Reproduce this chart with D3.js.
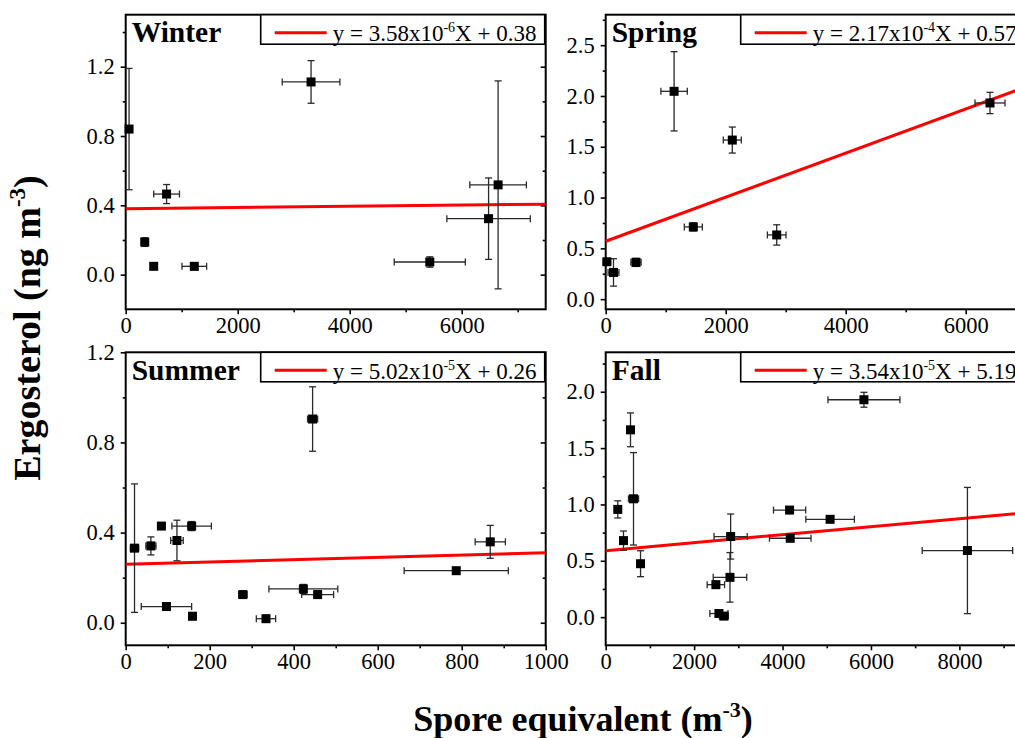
<!DOCTYPE html>
<html>
<head>
<meta charset="utf-8">
<script src="https://cdn.jsdelivr.net/npm/d3@7"></script>
<style>
  body { margin: 0; background: #fff; }
  svg { display: block; }
</style>
</head>
<body>
<svg id="chart" width="1015" height="738"></svg>
<script>
// ---- data ----
const seasons = ["Winter", "Spring", "Summer", "Fall"];

const winterX    = [60, 730, 340, 500, 1225, 3310, 5430, 6480, 6650];
const winterY    = [0.84, 0.465, 0.188, 0.048, 0.048, 1.112, 0.073, 0.323, 0.518];
const winterXErr = [20, 230, 55, 40, 220, 515, 635, 745, 505];
const winterYErr = [0.35, 0.055, 0.025, 0.015, 0.02, 0.123, 0.03, 0.235, 0.6];

const springX    = [20, 130, 505, 1140, 1460, 2110, 2850, 6405];
const springY    = [0.368, 0.263, 0.362, 2.046, 0.711, 1.566, 0.632, 1.931];
const springXErr = [60, 90, 85, 220, 150, 150, 155, 250];
const springYErr = [0.03, 0.135, 0.04, 0.39, 0.04, 0.128, 0.1, 0.105];

const summerX    = [21, 60, 85, 157, 122, 445, 97, 159, 279, 334, 423, 457, 787, 868];
const summerY    = [0.331, 0.341, 0.429, 0.429, 0.365, 0.904, 0.072, 0.029, 0.125, 0.018, 0.15, 0.125, 0.231, 0.359];
const summerXErr = [10, 12, 6, 47, 15, 12, 60, 6, 10, 23, 82, 38, 124, 36];
const summerYErr = [0.285, 0.04, 0.01, 0.02, 0.09, 0.143, 0.01, 0.015, 0.015, 0.015, 0.02, 0.015, 0.01, 0.073];

const fallX    = [273, 402, 561, 629, 788, 2492, 2561, 2674, 2826, 2811, 4159, 4174, 5076, 5841, 8182];
const fallY    = [0.956, 0.679, 1.662, 1.05, 0.474, 0.288, 0.032, 0.009, 0.715, 0.353, 0.95, 0.7, 0.868, 1.929, 0.591];
const fallXErr = [60, 60, 50, 114, 40, 197, 205, 100, 375, 379, 364, 470, 549, 814, 1023];
const fallYErr = [0.076, 0.085, 0.15, 0.41, 0.115, 0.02, 0.02, 0.02, 0.2, 0.22, 0.03, 0.03, 0.02, 0.066, 0.56];

// linear fits (slope, intercept) and the legend text pieces
const fitSlope     = [3.58e-6, 2.17e-4, 5.02e-5, 3.54e-5];
const fitIntercept = [0.38, 0.57, 0.26, 0.59];
const legendCoef   = ["3.58", "2.17", "5.02", "3.54"];
const legendExp    = ["-6", "-4", "-5", "-5"];
const legendConst  = ["0.38", "0.57", "0.26", "5.19"];

// tick values
const winterXTicks = [0, 2000, 4000, 6000];
const winterXMinor = [1000, 3000, 5000, 7000];
const winterYTicks = [0, 0.4, 0.8, 1.2];
const winterYMinor = [0.2, 0.6, 1.0, 1.4];
const springXTicks = [0, 2000, 4000, 6000];
const springXMinor = [1000, 3000, 5000, 7000];
const springYTicks = [0, 0.5, 1.0, 1.5, 2.0, 2.5];
const springYMinor = [0.25, 0.75, 1.25, 1.75, 2.25, 2.75];
const summerXTicks = [0, 200, 400, 600, 800, 1000];
const summerXMinor = [100, 300, 500, 700, 900];
const summerYTicks = [0, 0.4, 0.8, 1.2];
const summerYMinor = [0.2, 0.6, 1.0];
const fallXTicks = [0, 2000, 4000, 6000, 8000];
const fallXMinor = [1000, 3000, 5000, 7000, 9000];
const fallYTicks = [0, 0.5, 1.0, 1.5, 2.0];
const fallYMinor = [0.25, 0.75, 1.25, 1.75, 2.25];

const serif = '"Liberation Serif", "Times New Roman", Times, serif';

const svg = d3.select("#chart")
    .attr("font-family", serif);

svg.append("rect")
    .attr("width", 1015)
    .attr("height", 738)
    .attr("fill", "#fff");

const panels = [
  {left: 125.7, top: 14.7, height: 294.6, xDomain: [0, 7500], yDomain: [-0.2, 1.5],
   xs: winterX, ys: winterY, xe: winterXErr, ye: winterYErr,
   xt: winterXTicks, xm: winterXMinor, yt: winterYTicks, ym: winterYMinor},
  {left: 605.7, top: 14.7, height: 294.6, xDomain: [0, 7000], yDomain: [-0.1, 2.8],
   xs: springX, ys: springY, xe: springXErr, ye: springYErr,
   xt: springXTicks, xm: springXMinor, yt: springYTicks, ym: springYMinor},
  {left: 125.7, top: 352.3, height: 293, xDomain: [0, 1000], yDomain: [-0.1, 1.2],
   xs: summerX, ys: summerY, xe: summerXErr, ye: summerYErr,
   xt: summerXTicks, xm: summerXMinor, yt: summerYTicks, ym: summerYMinor},
  {left: 605.7, top: 352.3, height: 293, xDomain: [0, 9500], yDomain: [-0.25, 2.35],
   xs: fallX, ys: fallY, xe: fallXErr, ye: fallYErr,
   xt: fallXTicks, xm: fallXMinor, yt: fallYTicks, ym: fallYMinor}
];

const width = 420;

panels.forEach((p, i) => {
  const g = svg.append("g")
      .attr("transform", `translate(${p.left}, ${p.top})`);

  const xScale = d3.scaleLinear().domain(p.xDomain).range([0, width]);
  const yScale = d3.scaleLinear().domain(p.yDomain).range([p.height, 0]);

  // axes
  const styleAxis = a => {
    a.select(".domain").remove();
    a.attr("font-size", 22.5).attr("font-family", serif);
    a.selectAll("line").attr("stroke", "#000").attr("stroke-width", 1.6);
    a.selectAll("text").attr("fill", "#000");
  };

  g.append("g")
    .attr("transform", `translate(0, ${p.height})`)
    .call(d3.axisBottom(xScale).tickValues(p.xt).tickFormat(d3.format("d")).tickSize(5).tickPadding(3))
    .call(styleAxis);
  g.append("g")
    .attr("transform", `translate(0, ${p.height})`)
    .call(d3.axisBottom(xScale).tickValues(p.xm).tickFormat("").tickSize(3))
    .call(styleAxis);

  g.append("g")
    .call(d3.axisLeft(yScale).tickValues(p.yt).tickFormat(d3.format(".1f")).tickSize(5).tickPadding(6))
    .call(styleAxis);
  g.append("g")
    .call(d3.axisLeft(yScale).tickValues(p.ym).tickFormat("").tickSize(3))
    .call(styleAxis);

  // mirror ticks on the right side, pointing inward
  g.append("g")
    .attr("transform", `translate(${width}, 0)`)
    .call(d3.axisLeft(yScale).tickValues(p.yt).tickFormat("").tickSize(5))
    .call(styleAxis);
  g.append("g")
    .attr("transform", `translate(${width}, 0)`)
    .call(d3.axisLeft(yScale).tickValues(p.ym).tickFormat("").tickSize(3))
    .call(styleAxis);

  // frame
  g.append("rect")
    .attr("width", width)
    .attr("height", p.height)
    .attr("fill", "none")
    .attr("stroke", "#000")
    .attr("stroke-width", 2);

  // fit line
  g.append("line")
    .attr("x1", xScale(p.xDomain[0]))
    .attr("y1", yScale(fitSlope[i] * p.xDomain[0] + fitIntercept[i]))
    .attr("x2", xScale(p.xDomain[1]))
    .attr("y2", yScale(fitSlope[i] * p.xDomain[1] + fitIntercept[i]))
    .attr("stroke", "#ff0000")
    .attr("stroke-width", 3);

  const pts = p.xs.map((x, k) => ({x: x, y: p.ys[k], xe: p.xe[k], ye: p.ye[k]}));
  const cap = 3.5;
  const errColor = "#2a2a2a";

  const err = g.selectAll(".err")
    .data(pts)
    .enter().append("g")
    .attr("class", "err")
    .attr("stroke", errColor)
    .attr("stroke-width", 1.3);

  // horizontal error bars
  err.append("line")
    .attr("x1", d => xScale(d.x - d.xe)).attr("x2", d => xScale(d.x + d.xe))
    .attr("y1", d => yScale(d.y)).attr("y2", d => yScale(d.y));
  err.append("line")
    .attr("x1", d => xScale(d.x - d.xe)).attr("x2", d => xScale(d.x - d.xe))
    .attr("y1", d => yScale(d.y) - cap).attr("y2", d => yScale(d.y) + cap);
  err.append("line")
    .attr("x1", d => xScale(d.x + d.xe)).attr("x2", d => xScale(d.x + d.xe))
    .attr("y1", d => yScale(d.y) - cap).attr("y2", d => yScale(d.y) + cap);

  // vertical error bars
  err.append("line")
    .attr("x1", d => xScale(d.x)).attr("x2", d => xScale(d.x))
    .attr("y1", d => yScale(d.y - d.ye)).attr("y2", d => yScale(d.y + d.ye));
  err.append("line")
    .attr("x1", d => xScale(d.x) - cap).attr("x2", d => xScale(d.x) + cap)
    .attr("y1", d => yScale(d.y - d.ye)).attr("y2", d => yScale(d.y - d.ye));
  err.append("line")
    .attr("x1", d => xScale(d.x) - cap).attr("x2", d => xScale(d.x) + cap)
    .attr("y1", d => yScale(d.y + d.ye)).attr("y2", d => yScale(d.y + d.ye));

  // square markers
  const s = 9;
  g.selectAll(".pt")
    .data(pts)
    .enter().append("rect")
    .attr("class", "pt")
    .attr("x", d => xScale(d.x) - s / 2)
    .attr("y", d => yScale(d.y) - s / 2)
    .attr("width", s)
    .attr("height", s)
    .attr("fill", "#000");

  // legend box
  g.append("rect")
    .attr("x", 135)
    .attr("y", 0)
    .attr("width", width - 136)
    .attr("height", 29.5)
    .attr("fill", "#fff")
    .attr("stroke", "#000")
    .attr("stroke-width", 1.6);
  g.append("line")
    .attr("x1", 149).attr("x2", 201)
    .attr("y1", 18).attr("y2", 18)
    .attr("stroke", "#ff0000")
    .attr("stroke-width", 3);
  const lt = g.append("text")
    .attr("x", 207)
    .attr("y", 26.5)
    .attr("font-size", 23)
    .attr("fill", "#000");
  lt.append("tspan").text(`y = ${legendCoef[i]}x10`);
  lt.append("tspan").attr("font-size", 14).attr("dy", -9).text(legendExp[i]);
  lt.append("tspan").attr("dy", 9).text(`X + ${legendConst[i]}`);

  // season label
  g.append("text")
    .attr("x", 6)
    .attr("y", 27.5)
    .attr("font-size", 29.5)
    .attr("font-weight", "bold")
    .attr("fill", "#000")
    .text(seasons[i]);
});

// axis titles
const yLab = svg.append("text")
    .attr("transform", "translate(40, 328) rotate(-90)")
    .attr("text-anchor", "middle")
    .attr("font-size", 38)
    .attr("font-weight", "bold")
    .attr("fill", "#000");
yLab.append("tspan").text("Ergosterol (ng m");
yLab.append("tspan").attr("font-size", 23).attr("dy", -15).text("-3");
yLab.append("tspan").attr("dy", 15).text(")");

const xLab = svg.append("text")
    .attr("x", 583)
    .attr("y", 731)
    .attr("text-anchor", "middle")
    .attr("font-size", 36)
    .attr("font-weight", "bold")
    .attr("fill", "#000");
xLab.append("tspan").text("Spore equivalent (m");
xLab.append("tspan").attr("font-size", 22).attr("dy", -14).text("-3");
xLab.append("tspan").attr("dy", 14).text(")");
</script>
</body>
</html>
